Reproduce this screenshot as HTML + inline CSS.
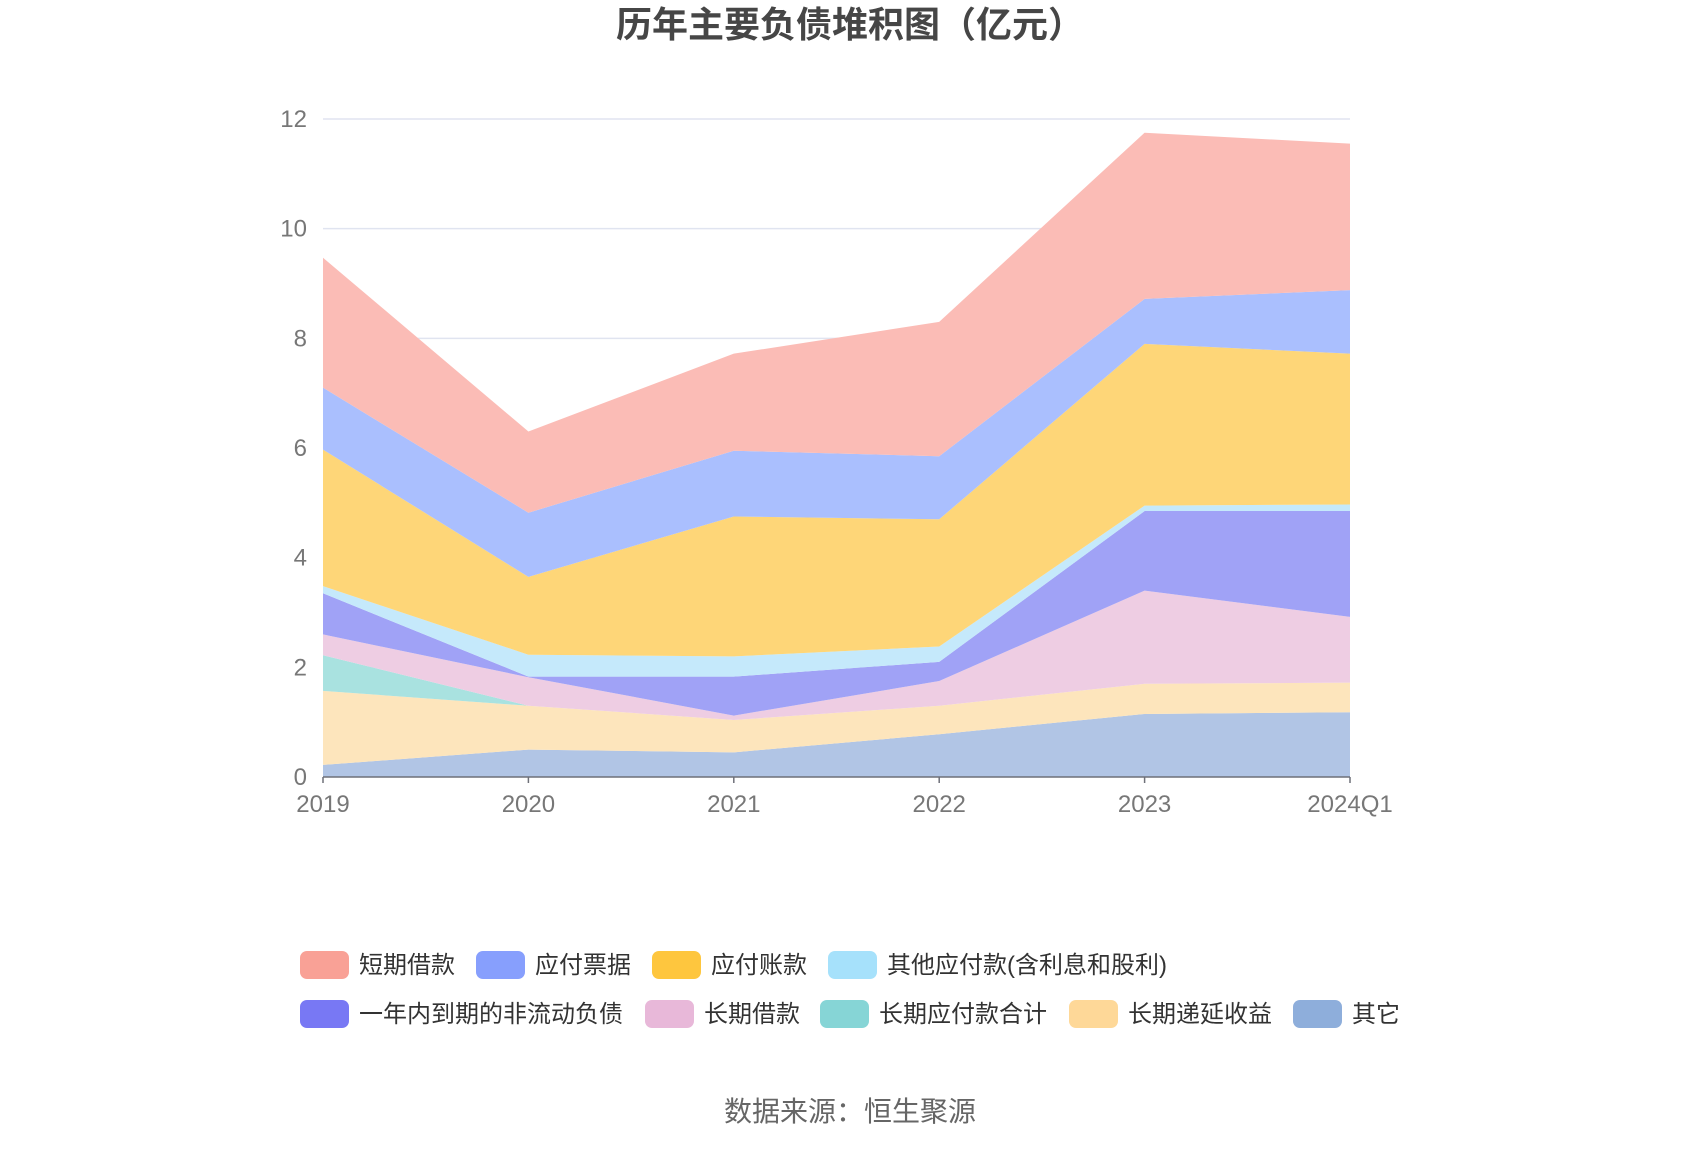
<!DOCTYPE html>
<html><head><meta charset="utf-8"><style>
body{margin:0;background:#fff;}
svg text{font-family:"Liberation Sans","Noto Sans CJK SC",sans-serif;}
</style></head><body>
<svg id="chart" width="1700" height="1150" xmlns="http://www.w3.org/2000/svg">
<text x="850" y="37" text-anchor="middle" font-size="36" font-weight="bold" fill="#464646">历年主要负债堆积图（亿元）</text>
<g id="grid"></g><g id="areas"></g><g id="axes"></g><g id="legend"></g>
<text x="850" y="1121" text-anchor="middle" font-size="28" fill="#666">数据来源：恒生聚源</text>
</svg>
<script>
const categories=["2019","2020","2021","2022","2023","2024Q1"];
const seriesNames=["其它","长期递延收益","长期应付款合计","长期借款","一年内到期的非流动负债","其他应付款(含利息和股利)","应付账款","应付票据","短期借款"];
const sOther=[0.22,0.5,0.45,0.78,1.15,1.18];
const sDeferred=[1.35,0.8,0.59,0.52,0.55,0.54];
const sLtPayable=[0.65,0,0,0,0,0];
const sLtLoan=[0.38,0.52,0.08,0.45,1.7,1.2];
const sCurrentNc=[0.75,0.01,0.71,0.35,1.45,1.93];
const sOtherPay=[0.13,0.4,0.37,0.28,0.1,0.12];
const sAccounts=[2.49,1.42,2.55,2.32,2.95,2.75];
const sNotes=[1.13,1.17,1.2,1.15,0.82,1.16];
const sShortLoan=[2.37,1.48,1.77,2.45,3.03,2.67];
const yTicks=[0,2,4,6,8,10,12];
const series=[sOther,sDeferred,sLtPayable,sLtLoan,sCurrentNc,sOtherPay,sAccounts,sNotes,sShortLoan];
const fills=["#b1c5e5","#fde5bc","#a9e2e0","#eecde3","#a0a2f6","#c5e9fb","#fed678","#aabffe","#fbbcb6"];
const legendColors=["#8eaedb","#fed898","#86d5d6","#e8b8d9","#7878f4","#a6e1fb","#fec63e","#879ffd","#f9a196"];
const NS="http://www.w3.org/2000/svg";
const X0=323,X1=1350,Y0=777,Y12=119;
const xs=i=>X0+(X1-X0)*i/(categories.length-1);
const ys=v=>Y0-(Y0-Y12)*v/12;
function mk(t,a,p){const e=document.createElementNS(NS,t);for(const k in a)e.setAttribute(k,a[k]);p.appendChild(e);return e;}
const grid=document.getElementById('grid'),axes=document.getElementById('axes'),areas=document.getElementById('areas'),legend=document.getElementById('legend');
yTicks.forEach(v=>{
  if(v>0){const l=mk('line',{x1:X0,x2:X1,y1:ys(v),y2:ys(v),stroke:'#e0e4f0','stroke-width':1.5},grid);
  
  }
  const t=mk('text',{x:X0-16,y:ys(v)+8,'text-anchor':'end','font-size':24,fill:'#777'},axes);t.textContent=v;
  
  
});
let base=categories.map(()=>0);
series.forEach((s,k)=>{
  const top=base.map((b,i)=>b+s[i]);
  let d='M'+top.map((v,i)=>xs(i)+','+ys(v)).join(' L');
  for(let i=categories.length-1;i>=0;i--)d+=' L'+xs(i)+','+ys(base[i]);
  const p=mk('path',{d:d+'Z',fill:fills[k]},areas);
  
  
  base=top;
});
const ax=mk('line',{x1:X0,x2:X1,y1:Y0,y2:Y0,stroke:'#6e7079','stroke-width':1.5},axes);


categories.forEach((c,i)=>{
  const tk=mk('line',{x1:xs(i),x2:xs(i),y1:Y0,y2:Y0+6,stroke:'#6e7079','stroke-width':1.5},axes);
  
  
  const t=mk('text',{x:xs(i),y:Y0+35,'text-anchor':'middle','font-size':24,fill:'#777'},axes);t.textContent=c;
  
  
});
const legItems=[[8,300,965],[7,476,965],[6,652,965],[5,828,965],[4,300,1014],[3,645,1014],[2,820,1014],[1,1069,1014],[0,1293,1014]];
legItems.forEach(([k,x,y])=>{
  const g=mk('g',{},legend);
  
  
  mk('rect',{x:x,y:y-14,width:49,height:28,rx:7,fill:legendColors[k]},g);
  const t=mk('text',{x:x+59,y:y+8,'font-size':24,fill:'#333'},g);t.textContent=seriesNames[k];
});
</script>
</body></html>
